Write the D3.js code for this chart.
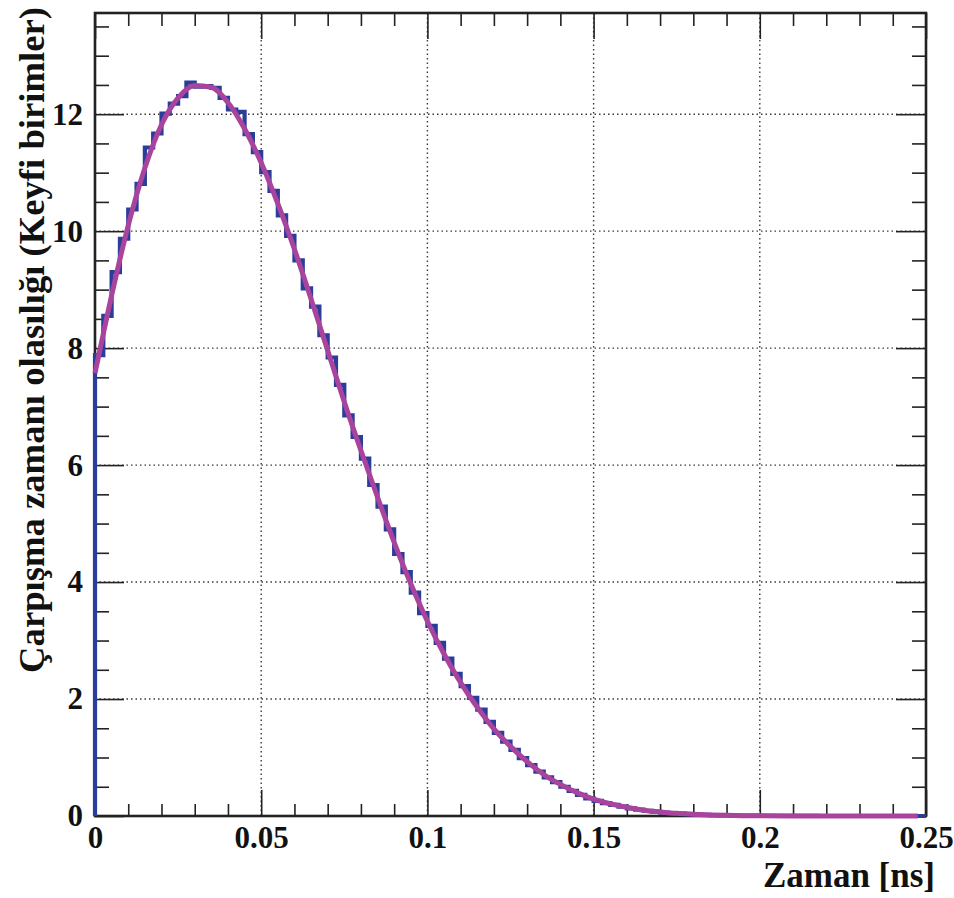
<!DOCTYPE html>
<html>
<head>
<meta charset="utf-8">
<script src="https://cdn.jsdelivr.net/npm/d3@7/dist/d3.min.js"></script>
<style>
  html, body { margin: 0; padding: 0; background: #fff; overflow: hidden; }
  svg { display: block; }
</style>
</head>
<body>
<svg id="chart" width="954" height="898"></svg>
<script>
// ---- data ----
const xRange = [0, 0.25];
const yMax = 13.73;
const xTickValues = [0, 0.05, 0.1, 0.15, 0.2, 0.25];
const xTickLabels = ["0", "0.05", "0.1", "0.15", "0.2", "0.25"];
const yTickValues = [0, 2, 4, 6, 8, 10, 12];
const yTickLabels = ["0", "2", "4", "6", "8", "10", "12"];
const xMinorStep = 0.01;
const yMinorStep = 0.5;
const xTitle = "Zaman [ns]";
const yTitle = "Çarpışma zamanı olasılığı (Keyfi birimler)";

// histogram contents: 100 bins from 0 to 0.25
const binContents = [
  7.88, 8.55, 9.30, 9.87, 10.37, 10.81, 11.43, 11.67, 12.01, 12.18,
  12.31, 12.54, 12.47, 12.48, 12.45, 12.28, 12.08, 12.04, 11.66, 11.35,
  11.01, 10.69, 10.27, 9.92, 9.50, 9.02, 8.71, 8.22, 7.84, 7.37,
  6.85, 6.48, 6.11, 5.66, 5.29, 4.90, 4.48, 4.17, 3.82, 3.47,
  3.25, 2.96, 2.69, 2.43, 2.22, 2.02, 1.82, 1.61, 1.42, 1.27,
  1.13, 0.99, 0.87, 0.76, 0.66, 0.58, 0.50, 0.43, 0.36, 0.30,
  0.26, 0.22, 0.19, 0.16, 0.13, 0.11, 0.09, 0.075, 0.06, 0.05,
  0.04, 0.032, 0.025, 0.02, 0.016, 0.012, 0.01, 0.008, 0.006, 0.005,
  0.004, 0.003, 0.002, 0.002, 0.001, 0.001, 0.001, 0, 0, 0,
  0, 0, 0, 0, 0, 0, 0, 0, 0, 0
];

// fitted curve samples
const fitX = [
  0, 0.005, 0.01, 0.015, 0.02, 0.025, 0.03, 0.035, 0.04, 0.045,
  0.05, 0.055, 0.06, 0.065, 0.07, 0.075, 0.08, 0.085, 0.09, 0.095,
  0.1, 0.105, 0.11, 0.115, 0.12, 0.125, 0.13, 0.135, 0.14, 0.145,
  0.15, 0.155, 0.16, 0.165, 0.17, 0.175, 0.18, 0.185, 0.19, 0.195,
  0.2, 0.21, 0.22, 0.23, 0.24, 0.2475
];
const fitY = [
  7.57, 8.90, 10.10, 11.08, 11.82, 12.28, 12.49, 12.46, 12.20, 11.75,
  11.17, 10.47, 9.69, 8.84, 7.96, 7.08, 6.25, 5.45, 4.68, 3.97,
  3.33, 2.77, 2.28, 1.86, 1.49, 1.19, 0.93, 0.71, 0.54, 0.40,
  0.29, 0.21, 0.15, 0.10, 0.07, 0.045, 0.03, 0.018, 0.011, 0.006,
  0.004, 0.002, 0.001, 0, 0, 0
];

// ---- layout ----
const FONT = "'Liberation Serif', 'Times New Roman', Times, serif";
const W = 954, H = 898;
const margin = { left: 95, right: 28, top: 13, bottom: 82 };
const iw = W - margin.left - margin.right;
const ih = H - margin.top - margin.bottom;

const svg = d3.select("#chart");
const g = svg.append("g").attr("transform", `translate(${margin.left},${margin.top})`);

const x = d3.scaleLinear().domain(xRange).range([0, iw]);
const y = d3.scaleLinear().domain([0, yMax]).range([ih, 0]);

const xMinor = d3.range(0, xRange[1] + 1e-9, xMinorStep).filter(v => xTickValues.every(t => Math.abs(t - v) > 1e-9));
const yMinor = d3.range(0, yMax, yMinorStep).filter(v => yTickValues.every(t => Math.abs(t - v) > 1e-9));

// grid
const gridColor = "#3a3a3a";
g.append("g").selectAll("line").data(xTickValues.slice(1, -1)).join("line")
  .attr("x1", d => x(d)).attr("x2", d => x(d)).attr("y1", 0).attr("y2", ih)
  .attr("stroke", gridColor).attr("stroke-width", 1.4).attr("stroke-dasharray", "1.5,3");
g.append("g").selectAll("line").data(yTickValues.slice(1)).join("line")
  .attr("y1", d => y(d)).attr("y2", d => y(d)).attr("x1", 0).attr("x2", iw)
  .attr("stroke", gridColor).attr("stroke-width", 1.4).attr("stroke-dasharray", "1.5,3");

// axes with inward ticks
function styleAxis(sel) {
  sel.attr("font-family", null).attr("font-size", null);
  sel.select(".domain").remove();
  sel.selectAll(".tick line").attr("stroke", "#222").attr("stroke-width", 1.6);
  sel.selectAll("text")
    .attr("font-family", FONT).attr("font-weight", "bold").attr("font-size", 31)
    .style("font-family", FONT).style("font-weight", "bold").style("font-size", "31px")
    .attr("fill", "#111");
}
const xLab = d => xTickLabels[xTickValues.findIndex(t => Math.abs(t - d) < 1e-9)];
const yLab = d => yTickLabels[yTickValues.findIndex(t => Math.abs(t - d) < 1e-9)];

g.append("g").attr("transform", `translate(0,${ih})`)
  .call(d3.axisBottom(x).tickValues(xTickValues).tickSize(-26).tickPadding(10).tickFormat(xLab))
  .call(styleAxis);
g.append("g").attr("transform", `translate(0,${ih})`)
  .call(d3.axisBottom(x).tickValues(xMinor).tickSize(-12).tickFormat(""))
  .call(styleAxis);
g.append("g")
  .call(d3.axisTop(x).tickValues(xTickValues).tickSize(-26).tickFormat(""))
  .call(styleAxis);
g.append("g")
  .call(d3.axisTop(x).tickValues(xMinor).tickSize(-13).tickFormat(""))
  .call(styleAxis);

g.append("g")
  .call(d3.axisLeft(y).tickValues(yTickValues).tickSize(-29).tickPadding(12).tickFormat(yLab))
  .call(styleAxis);
g.append("g")
  .call(d3.axisLeft(y).tickValues(yMinor).tickSize(-14).tickFormat(""))
  .call(styleAxis);
g.append("g").attr("transform", `translate(${iw},0)`)
  .call(d3.axisRight(y).tickValues(yTickValues).tickSize(-30).tickFormat(""))
  .call(styleAxis);
g.append("g").attr("transform", `translate(${iw},0)`)
  .call(d3.axisRight(y).tickValues(yMinor).tickSize(-14).tickFormat(""))
  .call(styleAxis);

// frame
g.append("rect").attr("x", 0).attr("y", 0).attr("width", iw).attr("height", ih)
  .attr("fill", "none").attr("stroke", "#222").attr("stroke-width", 2.6);

// histogram step line
const nb = binContents.length;
const bw = (xRange[1] - xRange[0]) / nb;
const histPts = [[xRange[0], 0]];
binContents.forEach((v, i) => {
  histPts.push([xRange[0] + i * bw, v]);
  histPts.push([xRange[0] + (i + 1) * bw, v]);
});
histPts.push([xRange[1], 0]);
g.append("path").datum(histPts)
  .attr("d", d3.line().x(d => x(d[0])).y(d => y(d[1])))
  .attr("fill", "none").attr("stroke", "#2b3d9b").attr("stroke-width", 4.2)
  .attr("stroke-linejoin", "miter");

// fit curve
const fitPts = fitX.map((v, i) => [v, fitY[i]]);
g.append("path").datum(fitPts)
  .attr("d", d3.line().x(d => x(d[0])).y(d => y(d[1])).curve(d3.curveMonotoneX))
  .attr("fill", "none").attr("stroke", "#a8449e").attr("stroke-width", 5)
  .attr("stroke-linecap", "butt");

// titles
svg.append("text").attr("x", 935).attr("y", 887).attr("text-anchor", "end")
  .style("font-family", FONT).style("font-weight", "bold").style("font-size", "35px")
  .attr("fill", "#111").text(xTitle);

const yt = svg.append("text")
  .attr("transform", "translate(44,340) rotate(-90)")
  .attr("text-anchor", "middle")
  .style("font-family", FONT).style("font-weight", "bold").style("font-size", "36px")
  .attr("fill", "#111").text(yTitle);
const len = yt.node().getComputedTextLength();
if (len > 0) yt.style("font-size", (36 * 666 / len).toFixed(2) + "px");
</script>
</body>
</html>
